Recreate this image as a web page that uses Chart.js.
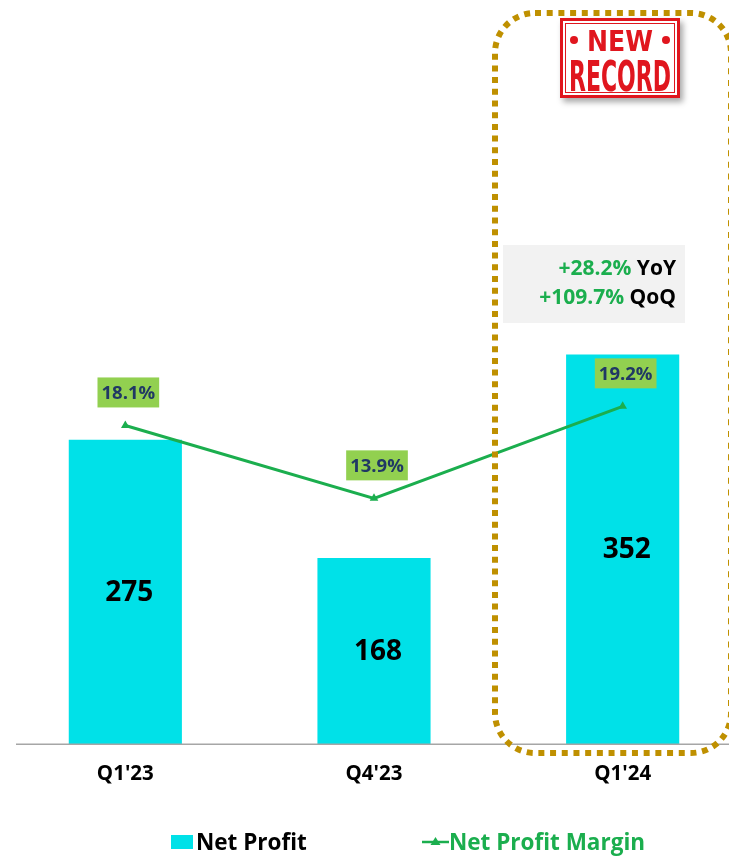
<!DOCTYPE html>
<html>
<head>
<meta charset="utf-8">
<script src="https://cdn.jsdelivr.net/npm/chart.js@4.4.1/dist/chart.umd.min.js"></script>
<style>
  html, body { margin: 0; padding: 0; background: #ffffff; overflow: hidden; }
  #wrap { position: relative; width: 760px; height: 856px; }
</style>
</head>
<body>
<div id="wrap"><canvas id="c" width="760" height="856"></canvas></div>
<script>
// ---- data ----
const categories = ["Q1'23", "Q4'23", "Q1'24"];
const netProfit = [275, 168, 352];
const netProfitMargin = [18.1, 13.9, 19.2];
const seriesNames = ["Net Profit", "Net Profit Margin"];
const growthLabels = [["+28.2%", "YoY"], ["+109.7%", "QoQ"]];
const stampWords = ["NEW", "RECORD"];

const CYAN = '#00E1E8';
const GREEN = '#1BAE4E';
const LABEL_BG = '#92D050';
const NAVY = '#203864';
const GOLD = '#BF9000';
const RED = '#E0161E';
const FONT = '"Open Sans", Lato, sans-serif';

const decorPlugin = {
  id: 'decor',
  afterDatasetsDraw(chart) {
    const ctx = chart.ctx;
    const area = chart.chartArea;
    // baseline
    ctx.save();
    ctx.strokeStyle = '#A6A6A6';
    ctx.lineWidth = 1.5;
    ctx.beginPath();
    ctx.moveTo(16, area.bottom + 0.25);
    ctx.lineTo(area.right, area.bottom + 0.25);
    ctx.stroke();
    ctx.restore();

    // bar value labels
    const barMeta = chart.getDatasetMeta(0);
    ctx.save();
    ctx.font = 'bold 28px ' + FONT;
    ctx.fillStyle = '#000';
    ctx.textAlign = 'center';
    ctx.textBaseline = 'middle';
    barMeta.data.forEach((bar, i) => {
      const cy = (bar.y + bar.base) / 2;
      ctx.fillText(String(netProfit[i]), bar.x + 4, cy + 1);
    });
    ctx.restore();

    // line point labels
    const lineMeta = chart.getDatasetMeta(1);
    ctx.save();
    ctx.font = 'bold 18.5px ' + FONT;
    ctx.textAlign = 'center';
    ctx.textBaseline = 'middle';
    lineMeta.data.forEach((pt, i) => {
      const txt = netProfitMargin[i].toFixed(1) + '%';
      const w = ctx.measureText(txt).width + 8;
      const h = 30;
      const cx = pt.x + 3;
      const cy = pt.y - 33;
      ctx.fillStyle = LABEL_BG;
      ctx.fillRect(cx - w / 2, cy - h / 2, w, h);
      ctx.fillStyle = NAVY;
      ctx.fillText(txt, cx, cy + 1);
    });
    ctx.restore();
  },
  afterDraw(chart) {
    const ctx = chart.ctx;
    // dotted highlight box
    ctx.save();
    ctx.strokeStyle = GOLD;
    ctx.lineWidth = 6;
    ctx.setLineDash([6, 5.7]);
    ctx.beginPath();
    ctx.roundRect(495, 13, 236, 740, 40);
    ctx.stroke();
    ctx.restore();

    // growth box
    ctx.save();
    ctx.fillStyle = '#F2F2F2';
    ctx.fillRect(503, 245, 182, 78);
    ctx.font = 'bold 21px ' + FONT;
    ctx.textBaseline = 'alphabetic';
    ctx.textAlign = 'right';
    const right = 676;
    const baselines = [275, 304];
    growthLabels.forEach((g, i) => {
      ctx.fillStyle = '#000';
      ctx.fillText(g[1], right, baselines[i]);
      const w = ctx.measureText(' ' + g[1]).width;
      ctx.fillStyle = GREEN;
      ctx.fillText(g[0], right - w, baselines[i]);
    });
    ctx.restore();

    // NEW RECORD stamp
    ctx.save();
    ctx.shadowColor = 'rgba(0,0,0,0.35)';
    ctx.shadowBlur = 6;
    ctx.shadowOffsetX = 3;
    ctx.shadowOffsetY = 4;
    ctx.fillStyle = '#ffffff';
    ctx.fillRect(560, 18, 120, 80);
    ctx.restore();
    ctx.save();
    ctx.strokeStyle = RED;
    ctx.lineWidth = 3;
    ctx.strokeRect(561.5, 19.5, 117, 77);
    ctx.lineWidth = 1;
    ctx.strokeRect(565.5, 23.5, 109, 69);
    ctx.fillStyle = RED;
    ctx.beginPath(); ctx.arc(574, 40, 4, 0, Math.PI * 2); ctx.fill();
    ctx.beginPath(); ctx.arc(666, 40, 4, 0, Math.PI * 2); ctx.fill();
    ctx.textAlign = 'center';
    ctx.textBaseline = 'alphabetic';
    const drawFit = (txt, cx, base, size, targetW) => {
      ctx.font = 'bold ' + size + 'px "Liberation Sans Narrow", "DejaVu Sans Condensed", sans-serif';
      const w = ctx.measureText(txt).width;
      ctx.save();
      ctx.translate(cx, base);
      ctx.scale(targetW / w, 1);
      ctx.fillText(txt, 0, 0);
      ctx.restore();
    };
    drawFit(stampWords[0], 620, 51, 29, 66);
    drawFit(stampWords[1], 620, 91, 42, 102);
    ctx.restore();

    // legend
    ctx.save();
    ctx.font = 'bold 22.5px ' + FONT;
    ctx.textBaseline = 'alphabetic';
    ctx.textAlign = 'left';
    ctx.fillStyle = CYAN;
    ctx.fillRect(171, 835, 22, 14);
    ctx.fillStyle = '#000';
    ctx.fillText(seriesNames[0], 196, 850);
    ctx.strokeStyle = GREEN;
    ctx.lineWidth = 2.5;
    ctx.beginPath(); ctx.moveTo(422, 842); ctx.lineTo(449, 842); ctx.stroke();
    ctx.fillStyle = GREEN;
    ctx.beginPath(); ctx.moveTo(435.5, 837); ctx.lineTo(440.5, 845); ctx.lineTo(430.5, 845); ctx.closePath(); ctx.fill();
    ctx.fillText(seriesNames[1], 449, 850);
    ctx.restore();
  }
};

new Chart(document.getElementById('c'), {
  type: 'bar',
  data: {
    labels: categories,
    datasets: [
      {
        type: 'bar',
        label: seriesNames[0],
        data: netProfit,
        backgroundColor: CYAN,
        borderWidth: 0,
        categoryPercentage: 1,
        barPercentage: 0.455,
        yAxisID: 'y',
        order: 2
      },
      {
        type: 'line',
        label: seriesNames[1],
        data: netProfitMargin,
        borderColor: GREEN,
        borderWidth: 3,
        backgroundColor: GREEN,
        pointStyle: 'triangle',
        pointRadius: 5,
        pointBackgroundColor: GREEN,
        pointBorderWidth: 0,
        tension: 0,
        yAxisID: 'y1',
        order: 1
      }
    ]
  },
  options: {
    responsive: false,
    animation: false,
    devicePixelRatio: 1,
    layout: { autoPadding: false, padding: { left: 1, right: 13, top: 80, bottom: 0 } },
    plugins: {
      legend: { display: false },
      tooltip: { enabled: false }
    },
    scales: {
      x: {
        offset: true,
        grid: { display: false, drawTicks: false },
        border: { display: false },
        ticks: {
          color: '#000',
          font: { family: FONT, size: 20.5, weight: 'bold' },
          padding: 18
        },
        afterFit(scale) {
          scale.height = 112;
          scale.paddingLeft = 0;
          scale.paddingRight = 0;
        }
      },
      y: {
        display: false,
        min: 0,
        max: 600
      },
      y1: {
        display: false,
        position: 'right',
        min: -0.25,
        max: 38
      }
    }
  },
  plugins: [decorPlugin]
});
</script>
</body>
</html>
